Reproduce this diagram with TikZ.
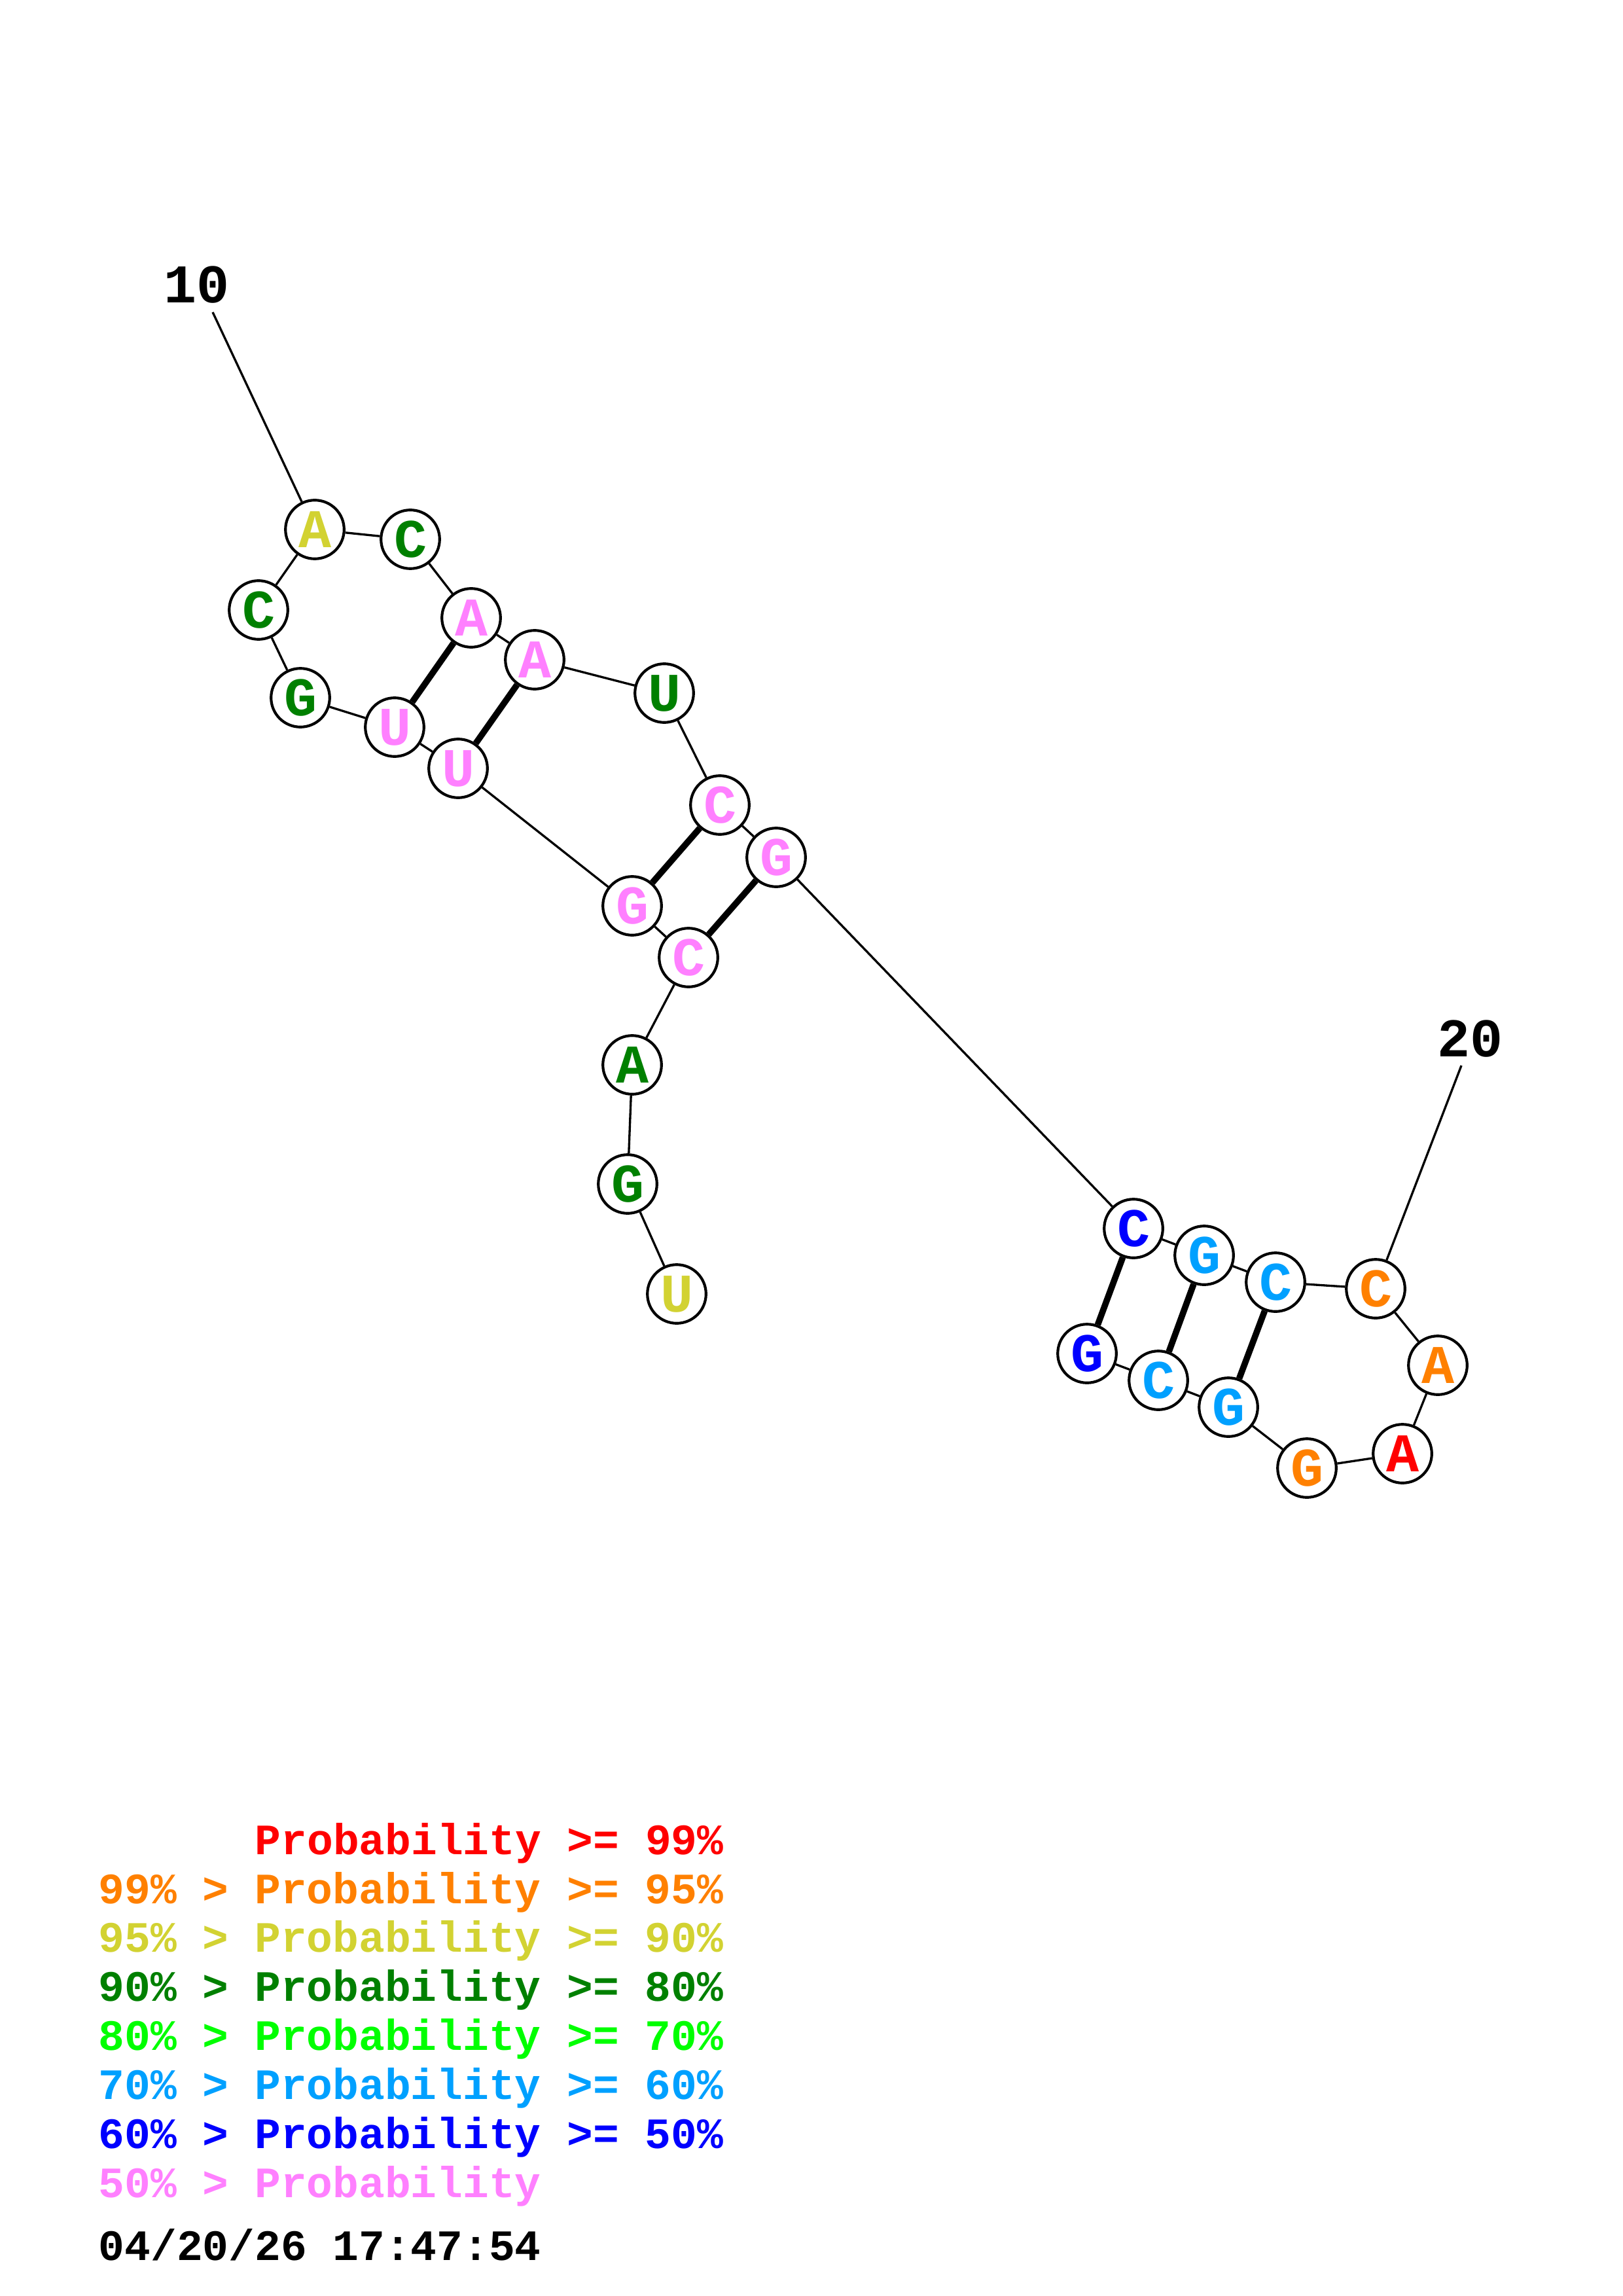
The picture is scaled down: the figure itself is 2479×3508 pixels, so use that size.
\documentclass[tikz,border=0pt]{standalone}
\usepackage{fontspec}
\setmonofont{Liberation Mono}

\definecolor{pr99}{RGB}{255,0,0}
\definecolor{pr95}{RGB}{255,128,0}
\definecolor{pr90}{RGB}{210,210,50}
\definecolor{pr80}{RGB}{0,128,0}
\definecolor{pr70}{RGB}{0,255,0}
\definecolor{pr60}{RGB}{0,160,255}
\definecolor{pr50}{RGB}{0,0,255}
\definecolor{prlow}{RGB}{255,128,255}

\tikzset{
  nuc/.style={circle, draw, line width=1pt, fill=white, minimum size=21.5pt, inner sep=0pt,
    font=\fontsize{20}{20}\selectfont\ttfamily\bfseries},
  backbone/.style={line width=0.8pt},
  bond/.style={line width=2.3pt},
  numlabel/.style={inner sep=0pt, font=\fontsize{20}{20}\selectfont\ttfamily\bfseries},
  legend/.style={anchor=base west, inner sep=0pt, font=\fontsize{15.9}{18}\selectfont\ttfamily\bfseries}
}

\begin{document}
\begin{tikzpicture}[x=0.24pt, y=-0.24pt]
    \useasboundingbox (0,0) rectangle (2479,3508);
    % nucleotides
    \node[nuc, text=pr90]  (n1)  at (1034,1977) {U};
    \node[nuc, text=pr80]  (n2)  at (959,1809)  {G};
    \node[nuc, text=pr80]  (n3)  at (966,1627)  {A};
    \node[nuc, text=prlow] (n4)  at (1052,1463) {C};
    \node[nuc, text=prlow] (n5)  at (966,1384)  {G};
    \node[nuc, text=prlow] (n6)  at (700,1174)  {U};
    \node[nuc, text=prlow] (n7)  at (603,1111)  {U};
    \node[nuc, text=pr80]  (n8)  at (459,1066)  {G};
    \node[nuc, text=pr80]  (n9)  at (395,932)   {C};
    \node[nuc, text=pr90]  (n10) at (481,809)   {A};
    \node[nuc, text=pr80]  (n11) at (627,824)   {C};
    \node[nuc, text=prlow] (n12) at (720,944)   {A};
    \node[nuc, text=prlow] (n13) at (817,1008)  {A};
    \node[nuc, text=pr80]  (n14) at (1015,1059) {U};
    \node[nuc, text=prlow] (n15) at (1100,1230) {C};
    \node[nuc, text=prlow] (n16) at (1186,1310) {G};
    \node[nuc, text=pr50]  (n17) at (1732,1877) {C};
    \node[nuc, text=pr60]  (n18) at (1840,1918) {G};
    \node[nuc, text=pr60]  (n19) at (1949,1959) {C};
    \node[nuc, text=pr95]  (n20) at (2102,1969) {C};
    \node[nuc, text=pr95]  (n21) at (2197,2086) {A};
    \node[nuc, text=pr99]  (n22) at (2143,2221) {A};
    \node[nuc, text=pr95]  (n23) at (1997,2243) {G};
    \node[nuc, text=pr60]  (n24) at (1877,2150) {G};
    \node[nuc, text=pr60]  (n25) at (1770,2109) {C};
    \node[nuc, text=pr50]  (n26) at (1661,2068) {G};
    % backbone
    \draw[backbone] (n1) -- (n2) -- (n3) -- (n4) -- (n5) -- (n6) -- (n7) -- (n8) -- (n9)
        -- (n10) -- (n11) -- (n12) -- (n13) -- (n14) -- (n15) -- (n16) -- (n17) -- (n18)
        -- (n19) -- (n20) -- (n21) -- (n22) -- (n23) -- (n24) -- (n25) -- (n26);
    % base pairs
    \draw[bond] (n12) -- (n7);
    \draw[bond] (n13) -- (n6);
    \draw[bond] (n15) -- (n5);
    \draw[bond] (n16) -- (n4);
    \draw[bond] (n17) -- (n26);
    \draw[bond] (n18) -- (n25);
    \draw[bond] (n19) -- (n24);
    % position marks
    \node[numlabel] (lab10) at (301,435) {10};
    \coordinate (tick10) at (325,477);
    \draw[backbone] (tick10) -- (n10);
    \node[numlabel] (lab20) at (2246,1587) {20};
    \coordinate (tick20) at (2233,1628);
    \draw[backbone] (tick20) -- (n20);
    % legend
    \node[legend, text=pr99]  (leg99)  at (389,2833) {Probability >= 99\%};
    \node[legend, text=pr95]  (leg95)  at (150,2908) {99\% > Probability >= 95\%};
    \node[legend, text=pr90]  (leg90)  at (150,2982) {95\% > Probability >= 90\%};
    \node[legend, text=pr80]  (leg80)  at (150,3057) {90\% > Probability >= 80\%};
    \node[legend, text=pr70]  (leg70)  at (150,3132) {80\% > Probability >= 70\%};
    \node[legend, text=pr60]  (leg60)  at (150,3207) {70\% > Probability >= 60\%};
    \node[legend, text=pr50]  (leg50)  at (150,3282) {60\% > Probability >= 50\%};
    \node[legend, text=prlow] (leglow) at (150,3357) {50\% > Probability};
    \node[legend]             (stamp)  at (150,3453) {04/20/26 17:47:54};
\end{tikzpicture}
\end{document}
